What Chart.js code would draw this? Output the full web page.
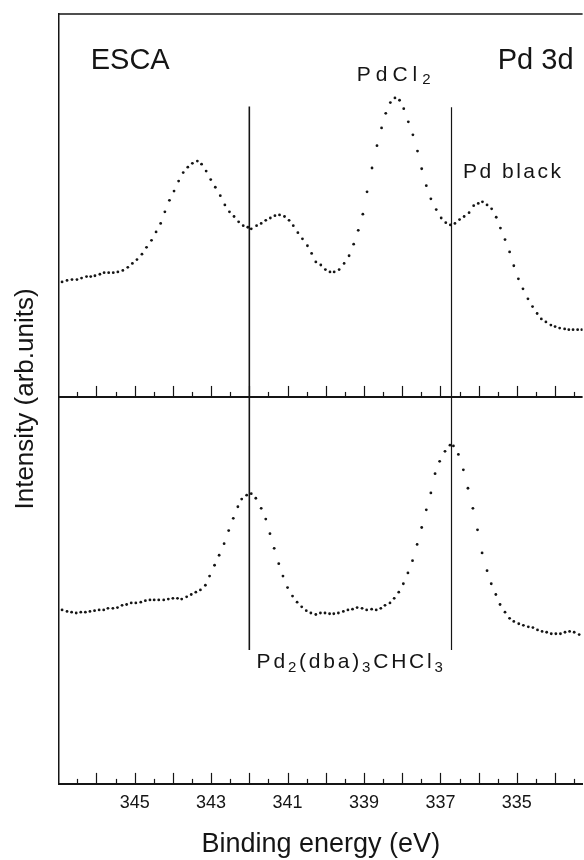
<!DOCTYPE html>
<html>
<head>
<meta charset="utf-8">
<title>ESCA Pd 3d</title>
<script src="https://cdn.jsdelivr.net/npm/chart.js@4.4.1/dist/chart.umd.min.js"></script>
<style>
	html, body { margin: 0; padding: 0; background: #fff; overflow: hidden; }
	canvas { display: block; }
</style>
</head>
<body>
<canvas id="esca-chart" width="584" height="860"></canvas>
<script>
// Binding energy (eV) of every dot, upper spectrum (PdCl2 + Pd black)
const upperEnergy = [
	346.90, 346.77, 346.64, 346.51, 346.39, 346.26, 346.15, 346.04, 345.91, 345.80,
	345.68, 345.56, 345.44, 345.31, 345.18, 345.06, 344.94, 344.81, 344.69, 344.56,
	344.44, 344.32, 344.21, 344.09, 343.97, 343.85, 343.73, 343.61, 343.49, 343.36,
	343.25, 343.13, 343.01, 342.89, 342.76, 342.64, 342.52, 342.40, 342.28, 342.16,
	342.04, 341.95, 341.81, 341.69, 341.57, 341.45, 341.33, 341.21, 341.08, 340.96,
	340.85, 340.73, 340.61, 340.48, 340.37, 340.26, 340.13, 340.01, 339.89, 339.78,
	339.65, 339.52, 339.39, 339.27, 339.15, 339.03, 338.92, 338.79, 338.66, 338.54,
	338.43, 338.31, 338.19, 338.07, 337.96, 337.84, 337.72, 337.60, 337.49, 337.37,
	337.25, 337.11, 336.98, 336.86, 336.74, 336.62, 336.50, 336.38, 336.25, 336.13,
	336.01, 335.90, 335.78, 335.66, 335.54, 335.43, 335.31, 335.19, 335.08, 334.96,
	334.84, 334.71, 334.59, 334.47, 334.36, 334.24, 334.11, 334.00, 333.88, 333.75,
	333.64, 333.53, 333.41, 333.30
];
const upperIntensity = [
	65.2, 65.4, 65.5, 65.5, 65.7, 65.9, 65.9, 66.0, 66.2, 66.4,
	66.4, 66.4, 66.5, 66.7, 67.1, 67.6, 68.1, 68.8, 69.7, 70.6,
	71.7, 72.8, 74.3, 75.8, 77.0, 78.3, 79.4, 80.1, 80.6, 80.9,
	80.5, 79.6, 78.5, 77.5, 76.4, 75.2, 74.3, 73.7, 73.0, 72.5,
	72.3, 72.1, 72.5, 72.8, 73.2, 73.5, 73.8, 73.9, 73.7, 73.2,
	72.5, 71.6, 70.8, 69.9, 68.9, 67.8, 67.4, 66.8, 66.5, 66.5,
	66.8, 67.6, 68.6, 70.1, 71.9, 74.0, 76.9, 80.0, 82.9, 85.2,
	87.1, 88.5, 89.1, 88.8, 87.7, 86.0, 84.3, 82.2, 79.9, 77.7,
	76.0, 74.6, 73.5, 72.9, 72.6, 72.8, 73.3, 73.7, 74.2, 75.1,
	75.4, 75.6, 75.2, 74.7, 73.6, 72.2, 70.7, 69.1, 67.3, 65.6,
	64.3, 63.0, 62.0, 61.1, 60.4, 60.0, 59.6, 59.4, 59.2, 59.1,
	59.0, 59.0, 59.0, 59.0
];

// Lower spectrum (Pd2(dba)3CHCl3)
const lowerEnergy = [
	346.90, 346.77, 346.65, 346.53, 346.41, 346.29, 346.17, 346.05, 345.93, 345.81,
	345.70, 345.57, 345.45, 345.33, 345.21, 345.09, 344.97, 344.84, 344.72, 344.60,
	344.49, 344.37, 344.24, 344.12, 344.00, 343.88, 343.77, 343.64, 343.52, 343.40,
	343.28, 343.15, 343.04, 342.91, 342.79, 342.66, 342.54, 342.42, 342.30, 342.20,
	342.07, 341.95, 341.83, 341.69, 341.57, 341.46, 341.35, 341.23, 341.12, 341.00,
	340.87, 340.75, 340.63, 340.51, 340.39, 340.26, 340.14, 340.02, 339.90, 339.79,
	339.67, 339.54, 339.42, 339.30, 339.18, 339.05, 338.93, 338.80, 338.68, 338.56,
	338.45, 338.32, 338.21, 338.09, 337.97, 337.85, 337.73, 337.61, 337.49, 337.37,
	337.25, 337.14, 337.02, 336.88, 336.75, 336.66, 336.53, 336.40, 336.28, 336.15,
	336.03, 335.91, 335.78, 335.67, 335.55, 335.44, 335.31, 335.19, 335.08, 334.95,
	334.83, 334.70, 334.58, 334.46, 334.34, 334.22, 334.10, 333.98, 333.86, 333.74,
	333.62, 333.50, 333.37
];
const lowerIntensity = [
	22.6, 22.4, 22.3, 22.2, 22.3, 22.3, 22.4, 22.5, 22.6, 22.6,
	22.8, 22.8, 22.9, 23.2, 23.3, 23.5, 23.5, 23.6, 23.8, 23.9,
	23.9, 23.9, 23.9, 24.0, 24.1, 24.1, 24.0, 24.3, 24.6, 24.9,
	25.2, 25.8, 27.0, 28.4, 29.7, 31.2, 32.9, 34.5, 36.0, 37.0,
	37.5, 37.7, 37.1, 35.8, 34.4, 32.5, 30.6, 28.6, 27.0, 25.5,
	24.4, 23.6, 23.0, 22.5, 22.2, 22.0, 22.2, 22.2, 22.1, 22.1,
	22.2, 22.4, 22.6, 22.7, 22.9, 22.8, 22.6, 22.7, 22.6, 22.8,
	23.2, 23.5, 24.1, 24.9, 26.0, 27.4, 29.0, 31.1, 33.3, 35.6,
	37.8, 40.3, 41.9, 43.2, 44.0, 43.9, 42.8, 40.8, 38.4, 35.8,
	33.0, 30.0, 27.7, 26.0, 24.6, 23.3, 22.3, 21.5, 21.1, 20.8,
	20.6, 20.4, 20.3, 20.0, 19.8, 19.7, 19.5, 19.5, 19.5, 19.7,
	19.8, 19.7, 19.4
];

// Reference lines through the Pd2(dba)3CHCl3 peaks
const markerEnergies = [342.0, 336.71];
const markerTop = [88.0, 87.9];
const markerBottom = 17.4;

// Axis
const xTickLabels = [345, 343, 341, 339, 337, 335];
const xMin = 333.28;
const xMax = 346.98;
const panelSplit = 50.26; // intensity where the upper panel's axis sits

const inkColor = '#151515';
const fontFamily = '"Liberation Sans", Arial, Helvetica, sans-serif';

/* Zip two arrays into scatter points */
function toPoints(energies, values) {
	return energies.map((e, i) => ({ x: e, y: values[i] }));
}

/* Draw text with subscript parts, left aligned, vertically centred on y */
function drawRichText(ctx, parts, x, y, size, spacing) {
	ctx.letterSpacing = spacing + 'px';
	ctx.textAlign = 'left';
	ctx.textBaseline = 'middle';
	let cursor = x;
	parts.forEach(([text, isSub]) => {
		const fontSize = isSub ? Math.round(size * 0.72) : size;
		ctx.font = `${fontSize}px ${fontFamily}`;
		ctx.fillText(text, cursor, isSub ? y + size * 0.25 : y);
		cursor += ctx.measureText(text).width;
	});
	ctx.letterSpacing = '0px';
}

/* Frame, middle axis, inward ticks and labels */
const panelDecor = {
	id: 'panelDecor',
	afterDraw(chart) {
		const { ctx, chartArea, scales: { x, y } } = chart;
		const midY = y.getPixelForValue(panelSplit);
		const bottomY = chartArea.bottom;

		ctx.save();
		ctx.strokeStyle = inkColor;
		ctx.fillStyle = inkColor;

		// top border
		ctx.lineWidth = 1.5;
		ctx.beginPath();
		ctx.moveTo(chartArea.left, chartArea.top);
		ctx.lineTo(chartArea.right, chartArea.top);
		ctx.stroke();

		// axis of the upper panel
		ctx.lineWidth = 2;
		ctx.beginPath();
		ctx.moveTo(chartArea.left, midY);
		ctx.lineTo(chartArea.right, midY);
		ctx.stroke();

		// ticks pointing up, long every 1 eV, short every 0.5 eV
		ctx.lineWidth = 1.2;
		for (let i = 0; i <= 26; i++) {
			const e = 346.5 - i * 0.5;
			const px = Math.round(x.getPixelForValue(e)) + 0.5;
			const len = Number.isInteger(e) ? 11 : 5;
			[midY, bottomY].forEach(base => {
				ctx.beginPath();
				ctx.moveTo(px, base);
				ctx.lineTo(px, base - len);
				ctx.stroke();
			});
		}

		// labels
		ctx.textAlign = 'left';
		ctx.textBaseline = 'middle';
		ctx.font = `29px ${fontFamily}`;
		ctx.fillText('ESCA', x.getPixelForValue(346.15), y.getPixelForValue(93.9));
		ctx.fillText('Pd 3d', x.getPixelForValue(335.5), y.getPixelForValue(93.9));

		drawRichText(ctx, [['PdCl', false], ['2', true]],
			x.getPixelForValue(339.19), y.getPixelForValue(92.1), 21, 5);
		drawRichText(ctx, [['Pd black', false]],
			x.getPixelForValue(336.41), y.getPixelForValue(79.4), 21, 2.5);
		drawRichText(ctx, [['Pd', false], ['2', true], ['(dba)', false], ['3', true], ['CHCl', false], ['3', true]],
			x.getPixelForValue(341.81), y.getPixelForValue(15.8), 21, 2.8);

		ctx.restore();
	}
};

const dotStyle = {
	showLine: false,
	pointRadius: 1.4,
	pointHoverRadius: 1.4,
	pointBorderWidth: 0,
	pointBackgroundColor: inkColor,
	borderColor: inkColor
};

const markerSets = markerEnergies.map((e, i) => ({
	label: 'marker ' + (i + 1),
	data: [{ x: e, y: markerTop[i] }, { x: e, y: markerBottom }],
	showLine: true,
	borderColor: inkColor,
	borderWidth: i === 0 ? 1.6 : 1.2,
	pointRadius: 0
}));

const ctx = document.getElementById('esca-chart').getContext('2d');

new Chart(ctx, {
	type: 'scatter',
	data: {
		datasets: [
			Object.assign({ label: 'PdCl2 / Pd black', data: toPoints(upperEnergy, upperIntensity) }, dotStyle),
			Object.assign({ label: 'Pd2(dba)3CHCl3', data: toPoints(lowerEnergy, lowerIntensity) }, dotStyle),
			...markerSets
		]
	},
	options: {
		responsive: false,
		animation: false,
		devicePixelRatio: 1,
		layout: { padding: { top: 14, right: 0, bottom: 0, left: 0 } },
		plugins: {
			legend: { display: false },
			tooltip: { enabled: false }
		},
		scales: {
			x: {
				type: 'linear',
				reverse: true,
				min: xMin,
				max: xMax,
				afterBuildTicks: scale => {
					scale.ticks = xTickLabels.map(value => ({ value }));
				},
				grid: { display: false, drawTicks: false },
				border: { display: true, color: inkColor, width: 2 },
				ticks: {
					color: inkColor,
					padding: 8,
					maxRotation: 0,
					autoSkip: false,
					font: { family: fontFamily, size: 18, lineHeight: 1.2 }
				},
				title: {
					display: true,
					text: 'Binding energy (eV)',
					color: inkColor,
					font: { family: fontFamily, size: 27, lineHeight: 1 },
					padding: { top: 10, bottom: 1.5 }
				}
			},
			y: {
				min: 0,
				max: 100,
				grid: { display: false, drawTicks: false },
				border: { display: true, color: inkColor, width: 1.5 },
				ticks: { display: false },
				title: {
					display: true,
					text: 'Intensity (arb.units)',
					color: inkColor,
					font: { family: fontFamily, size: 26, lineHeight: 1 },
					padding: { top: 13, bottom: 20 }
				}
			}
		}
	},
	plugins: [panelDecor]
});
</script>
</body>
</html>
